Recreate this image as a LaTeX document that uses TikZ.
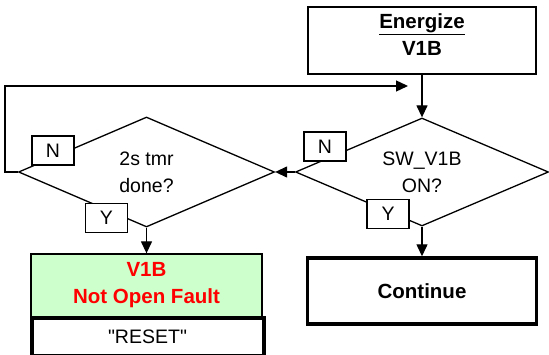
\documentclass[tikz,border=0pt]{standalone}
\usepackage{fontspec}
\setmainfont{Liberation Sans}
\usetikzlibrary{shapes.geometric, arrows.meta}

\definecolor{faultgreen}{HTML}{CCFFCC}
\definecolor{faultred}{HTML}{FF0000}

\tikzset{
  txt/.style={font=\fontsize{19.5}{27}\selectfont, align=center},
  bold/.style={font=\fontsize{20.5}{27}\selectfont\bfseries, align=center},
  box/.style={draw, line width=1.3pt, inner sep=0pt},
  heavybox/.style={draw, line width=3.4pt, inner sep=0pt},
  decision/.style={diamond, draw, line width=1.3pt, aspect=2.3, inner sep=0pt, txt},
  yn/.style={draw, fill=white, line width=1.3pt, minimum width=42pt, minimum height=29pt, inner sep=0pt, txt},
  flow/.style={line width=1.3pt, -{Triangle[length=12pt,width=11pt]}}
}

\begin{document}
\begin{tikzpicture}[x=1pt, y=-1pt]
        \useasboundingbox (0,0) rectangle (549,355);

        % right column
        \node[box, minimum width=228pt, minimum height=67pt] (energize) at (422,40.5) {};
        \node[bold] (energizetxt) at ([yshift=6pt]energize.center) {\underline{Energize}\\V1B};
        \node[decision, minimum width=253pt, minimum height=108pt] (swdec) at (422,172) {SW\_V1B\\ON?};
        \node[heavybox, bold, minimum width=229pt, minimum height=66pt] (cont) at (422,291) {Continue};

        % left column
        \node[decision, minimum width=256pt, minimum height=110pt] (tmrdec) at (146.5,172) {2s tmr\\done?};
        \node[box, bold, fill=faultgreen, text=faultred, minimum width=231pt, minimum height=63pt] (fault) at (146.5,285.5) {V1B\\Not Open Fault};
        \node[heavybox, line width=4pt, txt, minimum width=232pt, minimum height=38pt] (reset) at (147.5,337) {\textquotedbl RESET\textquotedbl};

        \coordinate (loopend) at (408,86);
        \draw[flow] (energize) -- (swdec);
        \draw[flow] (swdec.west) -- (tmrdec.east);
        \draw[flow] (swdec) -- (cont);
        \draw[flow] (tmrdec) -- (fault);
        \draw[flow] (tmrdec.west) -- ++(-13,0) |- (loopend);

        % branch labels
        \node[yn] (tmrno) at (53,150.5) {N};
        \node[yn] (tmryes) at (106.5,218) {Y};
        \node[yn] (swno) at (325,146.5) {N};
        \node[yn] (swyes) at (388,214) {Y};
\end{tikzpicture}
\end{document}
